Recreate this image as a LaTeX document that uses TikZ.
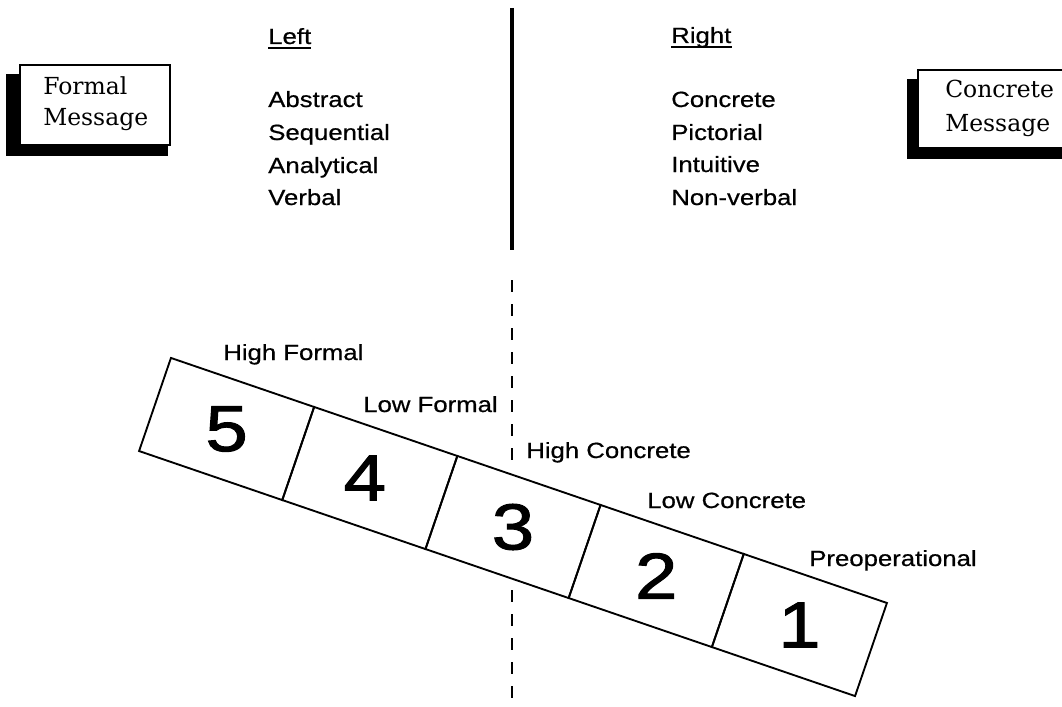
\documentclass[tikz,border=0pt]{standalone}
\usepackage{fontspec}
\setmainfont{Liberation Sans}[FakeStretch=1.17,FakeBold=0.6]
\newfontfamily\numfont{Liberation Sans}[FakeStretch=1.17,FakeBold=1.6]
\newfontfamily\boxfont{DejaVu Serif}
\usetikzlibrary{calc,backgrounds}
\begin{document}
\begin{tikzpicture}[x=0.75pt,y=-0.75pt,
  txt/.style={inner sep=0pt, anchor=base west, font=\fontsize{16.5}{20}\selectfont},
  num/.style={inner sep=0pt, font=\numfont\fontsize{48.75}{50}\selectfont},
  cell/.style={draw, line width=1.4pt, rotate=-18.9, minimum width=113.5pt, minimum height=73.8pt, inner sep=0pt, outer sep=0pt},
  msgbox/.style={draw, line width=1.9pt, fill=white, inner sep=0pt},
  msgtxt/.style={inner sep=0pt, anchor=base west, font=\boxfont\fontsize{17.6}{20}\selectfont},
  solidline/.style={line width=2.4pt},
  dashline/.style={line width=1.4pt, dash pattern=on 9pt off 9pt}
]
\useasboundingbox (0,0) rectangle (1062,706);
\clip (0,0) rectangle (1062,706);

% message boxes
\node[msgbox, minimum width=112.5pt, minimum height=60pt] (fm) at (95,105) {};
\node[msgbox, minimum width=117.75pt, minimum height=58.5pt] (cm) at (996.5,109) {};
\begin{pgfonlayer}{background}
  \fill ($(fm.north west)+(-13,10)$) rectangle ($(fm.south east)+(-3,10)$);
  \fill ($(cm.north west)+(-10,10)$) rectangle ($(cm.south east)+(0,10)$);
\end{pgfonlayer}
\node[msgtxt] (fm1) at (43,95) {Formal};
\node[msgtxt] (fm2) at (43,126) {Message};
\node[msgtxt] (cm1) at (945,98) {Concrete};
\node[msgtxt] (cm2) at (945,132) {Message};

% headings and lists
\node[txt] (left) at (268,44) {Left};
\draw[line width=1.1pt] ($(left.base west)+(0,4)$) -- ($(left.base east)+(0,4)$);
\node[txt] (l1) at (268,107) {Abstract};
\node[txt] (l2) at (268,140) {Sequential};
\node[txt] (l3) at (268,173) {Analytical};
\node[txt] (l4) at (268,205) {Verbal};

\node[txt] (right) at (671,43) {Right};
\draw[line width=1.1pt] ($(right.base west)+(0,4)$) -- ($(right.base east)+(0,4)$);
\node[txt] (r1) at (671,107) {Concrete};
\node[txt] (r2) at (671,140) {Pictorial};
\node[txt] (r3) at (671,172) {Intuitive};
\node[txt] (r4) at (671,205) {Non-verbal};

% dividing line
\coordinate (v1) at (512,8);
\coordinate (v2) at (512,250);
\coordinate (v3) at (512,280);
\coordinate (v4) at (512,462);
\coordinate (v5) at (512,590);
\coordinate (v6) at (512,706);
\draw[solidline] (v1) -- (v2);
\draw[dashline] (v3) -- (v4);
\draw[dashline] (v5) -- (v6);

% strip
\node[cell] (c5) at (226.6,429) {};
\node[cell] (c4) at (369.8,478) {};
\node[cell] (c3) at (513,527) {};
\node[cell] (c2) at (656.2,576) {};
\node[cell] (c1) at (799.4,625) {};
\node[num] (n5) at (c5) {5};
\node[num] (n4) at ($(c4)+(-5,0)$) {4};
\node[num] (n3) at (c3) {3};
\node[num] (n2) at (c2) {2};
\node[num] (n1) at (c1) {1};

% stage labels
\node[txt] (s5) at (223,360) {High Formal};
\node[txt] (s4) at (363,412) {Low Formal};
\node[txt] (s3) at (526,458) {High Concrete};
\node[txt] (s2) at (647,508) {Low Concrete};
\node[txt] (s1) at (809,566) {Preoperational};
\end{tikzpicture}
\end{document}
